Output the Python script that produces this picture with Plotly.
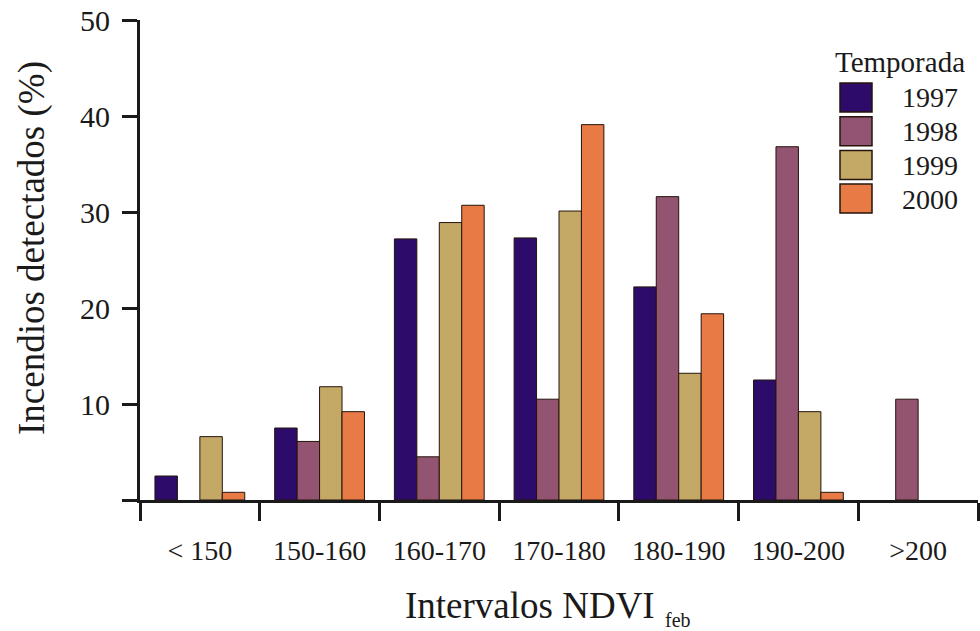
import plotly.graph_objects as go

# Percentage of detected fires per NDVI (February) interval and fire season
categories = ["< 150", "150-160", "160-170", "170-180", "180-190", "190-200", ">200"]
seasons = ["1997", "1998", "1999", "2000"]
v1997 = [2.5, 7.5, 27.2, 27.3, 22.2, 12.5, 0]
v1998 = [0, 6.1, 4.5, 10.5, 31.6, 36.8, 10.5]
v1999 = [6.6, 11.8, 28.9, 30.1, 13.2, 9.2, 0]
v2000 = [0.8, 9.2, 30.7, 39.1, 19.4, 0.8, 0]
colors = ["#2d0b6b", "#925470", "#c4a866", "#e87b45"]
y_ticks = [0, 10, 20, 30, 40, 50]
y_ticktext = ["", "10", "20", "30", "40", "50"]

W, H = 980, 631
ML, MR, MT, MB = 140, 2, 20, 131
FONT = "Liberation Serif"
INK = "#1a1a1a"

fig = go.Figure()
for name, vals, col in zip(seasons, [v1997, v1998, v1999, v2000], colors):
    # empty classes get no bar at all
    shown = [v if v > 0 else None for v in vals]
    fig.add_trace(go.Bar(
        x=categories, y=shown, name=name,
        marker=dict(color=col, line=dict(color="#24140c", width=1)),
        showlegend=False,
    ))

fig.update_layout(
    width=W, height=H,
    margin=dict(l=ML, r=MR, t=MT, b=MB),
    paper_bgcolor="white", plot_bgcolor="white",
    barmode="group", bargap=0.25, bargroupgap=0,
    font=dict(family=FONT, color=INK),
)
fig.update_xaxes(
    showline=True, linecolor=INK, linewidth=3,
    ticks="outside", tickson="boundaries", ticklen=18, tickwidth=3,
    tickcolor=INK, tickfont=dict(size=28, family=FONT, color=INK),
    ticklabelstandoff=23, showgrid=False, zeroline=False,
)
fig.update_yaxes(
    range=[0, 50], showline=True, linecolor=INK, linewidth=3,
    tickvals=y_ticks, ticktext=y_ticktext,
    ticks="outside", ticklen=15, tickwidth=3, tickcolor=INK,
    tickfont=dict(size=30, family=FONT, color=INK), ticklabelstandoff=6,
    showgrid=False, zeroline=False,
)

pw, ph = W - ML - MR, H - MT - MB
def px(x):
    return (x - ML) / pw
def py(y):
    return (H - MB - y) / ph

# Axis titles
fig.add_annotation(
    text="Intervalos NDVI", xref="paper", yref="paper", x=px(530), y=py(605),
    showarrow=False, font=dict(size=37, family=FONT, color=INK),
    xanchor="center", yanchor="middle",
)
fig.add_annotation(
    text="feb", xref="paper", yref="paper", x=px(678), y=py(620),
    showarrow=False, font=dict(size=20, family=FONT, color=INK),
    xanchor="center", yanchor="middle",
)
fig.add_annotation(
    text="Incendios detectados (%)", xref="paper", yref="paper",
    x=px(32), y=py(248), textangle=-90, showarrow=False,
    font=dict(size=37, family=FONT, color=INK), xanchor="center", yanchor="middle",
)

# Legend drawn as swatches with labels
fig.add_annotation(
    text="Temporada", xref="paper", yref="paper", x=px(900), y=py(62),
    showarrow=False, font=dict(size=29, family=FONT, color=INK),
    xanchor="center", yanchor="middle",
)
row_top = 83
row_step = 33.7
for i, (name, col) in enumerate(zip(seasons, colors)):
    y0 = row_top + i * row_step
    fig.add_shape(
        type="rect", xref="paper", yref="paper",
        x0=px(840), x1=px(872), y0=py(y0 + 29), y1=py(y0),
        fillcolor=col, line=dict(color="#24140c", width=1.5),
    )
    fig.add_annotation(
        text=name, xref="paper", yref="paper", x=px(930), y=py(y0 + 15),
        showarrow=False, font=dict(size=28, family=FONT, color=INK),
        xanchor="center", yanchor="middle",
    )

fig.write_html("out.html")
